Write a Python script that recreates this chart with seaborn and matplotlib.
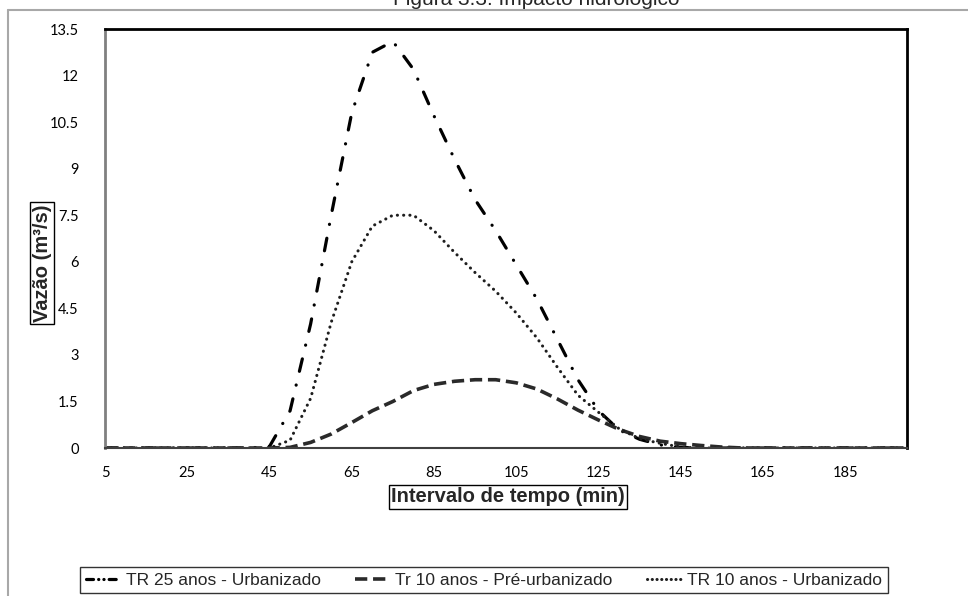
import numpy as np
import pandas as pd
import matplotlib
matplotlib.use("Agg")
import matplotlib.pyplot as plt
from matplotlib.lines import Line2D
import seaborn as sns

# time steps (min)
tempo = list(range(5, 205, 5))

# TR 25 anos - Urbanizado
tr25_urb = [0, 0, 0, 0, 0, 0, 0, 0, 0.05, 1.2,
            4.0, 7.5, 10.8, 12.75, 13.1, 12.2, 10.7, 9.3, 8.0, 7.0,
            5.9, 4.8, 3.5, 2.2, 1.2, 0.58, 0.28, 0.1, 0.02, 0,
            0, 0, 0, 0, 0, 0, 0, 0, 0, 0]

# Tr 10 anos - Pré-urbanizado
tr10_pre = [0, 0, 0, 0, 0, 0, 0, 0, 0, 0.02,
            0.18, 0.45, 0.82, 1.2, 1.5, 1.85, 2.05, 2.15, 2.2, 2.2,
            2.1, 1.9, 1.58, 1.22, 0.9, 0.6, 0.37, 0.22, 0.14, 0.08,
            0.03, 0, 0, 0, 0, 0, 0, 0, 0, 0]

# TR 10 anos - Urbanizado
tr10_urb = [0, 0, 0, 0, 0, 0, 0, 0, 0, 0.25,
            1.6, 4.05, 6.0, 7.15, 7.5, 7.5, 7.0, 6.3, 5.65, 5.05,
            4.35, 3.55, 2.6, 1.7, 1.15, 0.62, 0.3, 0.15, 0.03, 0,
            0, 0, 0, 0, 0, 0, 0, 0, 0, 0]

series_names = ["TR 25 anos - Urbanizado", "Tr 10 anos - Pré-urbanizado", "TR 10 anos - Urbanizado"]
x_ticks = list(range(5, 186, 20))
y_ticks = np.arange(0, 13.51, 1.5)

df = pd.DataFrame({"tempo": tempo, series_names[0]: tr25_urb,
                   series_names[1]: tr10_pre, series_names[2]: tr10_urb})

sns.set_style("white")
narrow = ["Liberation Sans Narrow", "Liberation Sans", "DejaVu Sans"]
plt.rcParams["font.family"] = ["Lato", "DejaVu Sans"]

fig = plt.figure(figsize=(9.68, 5.96), dpi=100)
ax = fig.add_axes([105 / 968, 1 - 448 / 596, 802 / 968, 419 / 596])

styles = [
    dict(color="black", lw=2.3, dashes=(4.0, 4.4, 0.05, 4.4), dash_capstyle="round"),
    dict(color="#2a2a2a", lw=2.6, dashes=(3.4, 1.6), dash_capstyle="butt"),
    dict(color="#1e1e1e", lw=2.2, dashes=(0.05, 2.0), dash_capstyle="round"),
]
for name, st in zip(series_names, styles):
    sns.lineplot(data=df, x="tempo", y=name, ax=ax, color=st["color"], lw=st["lw"], label=name)
    l = ax.lines[-1]
    l.set_dashes(st["dashes"])
    l.set_dash_capstyle(st["dash_capstyle"])

ax.set_xlim(5, 200)
ax.set_ylim(0, 13.5)
ax.set_xticks(x_ticks)
ax.set_yticks(y_ticks)
ax.set_yticklabels([f"{v:g}" for v in y_ticks])
ax.set_xlabel("")
ax.set_ylabel("")
ax.tick_params(axis="both", direction="out", length=5, width=1, color="#888888",
               labelsize=10.5, labelcolor="black")
ax.tick_params(axis="x", pad=8)
ax.tick_params(axis="y", pad=14)
for side in ["top", "right"]:
    ax.spines[side].set_color("black")
    ax.spines[side].set_linewidth(2)
ax.spines["left"].set_color("#808080")
ax.spines["left"].set_linewidth(2)
ax.spines["bottom"].set_color("#404040")
ax.spines["bottom"].set_linewidth(1.5)
ax.legend_.remove()

box = dict(boxstyle="square,pad=0.12", fc="white", ec="black", lw=1)
fig.text(42 / 968, 1 - 263 / 596, "Vazão (m³/s)", rotation=90, ha="center", va="center",
         fontsize=14.5, fontweight="bold", family=narrow, bbox=box)
fig.text(508 / 968, 1 - 497 / 596, "Intervalo de tempo (min)", ha="center", va="center",
         fontsize=14.5, fontweight="bold", family=narrow, bbox=box)

# title, cut by the top of the image
fig.text(536 / 968, 1 - 5 / 596, "Figura 3.3: Impacto hidrológico", ha="center", va="baseline",
         fontsize=15, family=["Liberation Sans", "DejaVu Sans"])

# grey outer frame
fig.add_artist(Line2D([8 / 968, 1], [1 - 10 / 596] * 2, transform=fig.transFigure, color="#a8a8a8", lw=1.5))
fig.add_artist(Line2D([8 / 968] * 2, [0, 1 - 10 / 596], transform=fig.transFigure, color="#a8a8a8", lw=1.5))

# legend swatches: shorter pattern so the dash-dot shows two dots
leg_styles = [dict(styles[0], dashes=(2.2, 1.6, 0.05, 1.6, 0.05, 1.6)), styles[1], dict(styles[2], dashes=(0.05, 1.5))]
handles = [Line2D([], [], **st) for st in leg_styles]
leg = fig.legend(handles, series_names, loc="center", bbox_to_anchor=(484 / 968, 1 - 580 / 596),
                 ncol=3, frameon=True, fancybox=False, handlelength=2.0, handletextpad=0.3,
                 columnspacing=2.0, borderpad=0.3, prop={"family": narrow, "size": 12.5})
leg.get_frame().set_edgecolor("black")
leg.get_frame().set_linewidth(1)

fig.savefig("out.png", dpi=100)
